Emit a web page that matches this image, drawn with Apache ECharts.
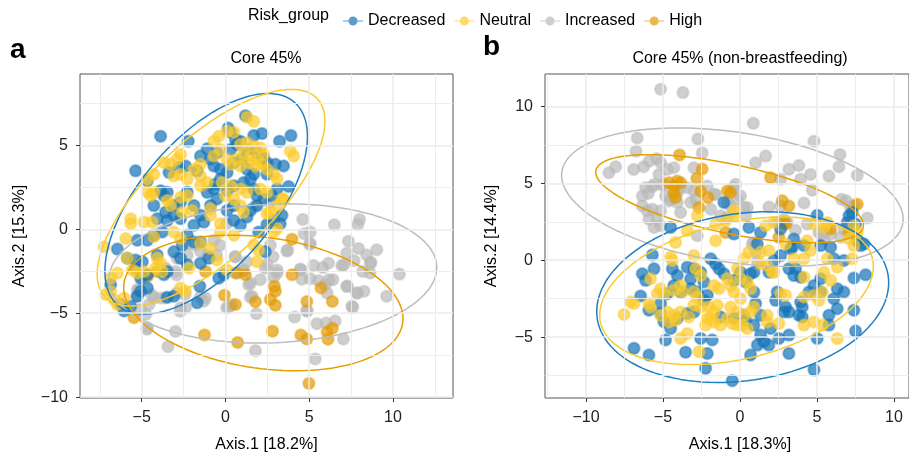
<!DOCTYPE html>
<html>
<head>
<meta charset="utf-8">
<script src="https://cdn.jsdelivr.net/npm/echarts@6/dist/echarts.min.js"></script>
<style>
  html, body { margin: 0; padding: 0; background: #fff; }
  #chart { width: 909px; height: 458px; }
</style>
</head>
<body>
<div id="chart"></div>
<script>
const groups = ['Decreased', 'Neutral', 'Increased', 'High'];
const groupColors = { Decreased: '#1474b8', Neutral: '#fcca2a', Increased: '#b9b9b9', High: '#e39a00' };
const lineColors = { Decreased: '#1f7fc3', Neutral: '#f9cb2c', Increased: '#bdbdbd', High: '#e69f00' };
// draw order, bottom to top
const drawOrder = ['Increased', 'High', 'Decreased', 'Neutral'];

// ---- panel a: Core 45% ----
const aDecreased = [[1.19,6.76],[-3.87,5.54],[-2.22,5.25],[0.16,6.03],[0.3,5.78],[0.6,5.34],[0.89,5.25],[1.69,5.58],[2.18,5.7],[3.23,5.25],[3.91,5.58],[-5.36,3.48],[-4.66,2.89],[-3.87,2.3],[-3.47,2.2],[-3.67,2.0],[-3.37,3.38],[-2.78,3.67],[-2.38,3.77],[-1.69,3.48],[-1.09,4.79],[-0.5,4.56],[-0.89,4.17],[-0.69,3.77],[-0.3,3.58],[0.1,3.38],[0.5,3.97],[0.99,4.17],[1.29,3.58],[1.69,3.28],[2.48,3.97],[2.98,3.87],[3.77,2.55],[3.08,2.4],[2.78,2.0],[2.28,1.81],[1.88,1.41],[1.49,1.12],[1.29,0.73],[0.5,1.41],[0.1,1.12],[-0.5,1.81],[-0.89,1.41],[-1.49,0.83],[-1.29,0.43],[-1.88,0.24],[-2.28,-0.35],[-1.88,-0.75],[-2.68,0.63],[-3.08,0.83],[-3.57,1.02],[-3.47,0.53],[-3.77,-0.16],[-4.27,-0.35],[-4.66,-0.65],[-5.26,-0.65],[-6.45,-1.18],[-5.85,-1.73],[-5.36,-1.83],[-4.96,-1.93],[-5.36,-2.32],[-5.06,-2.91],[-4.66,-2.71],[-3.67,-2.71],[-3.47,-2.51],[-2.68,-1.73],[-2.28,-2.12],[-1.49,-2.02],[-0.99,-1.73],[-0.4,-2.91],[-0.1,-2.71],[-1.53,-3.4],[-1.69,-4.38],[-3.08,-3.99],[-3.47,-4.05],[-4.66,-3.5],[-5.06,-3.69],[-5.26,-3.99],[-6.05,-4.87],[-5.65,-4.58],[-6.25,-4.48],[-6.85,-3.3],[2.48,0.28],[2.88,0.53],[3.37,0.83],[3.27,0.33],[2.38,-1.34],[1.98,-0.16],[0.89,0.24],[0.5,0.53],[1.88,2.0],[1.69,2.4],[0.5,2.59],[0.1,2.3],[-1.09,2.2],[-0.69,2.4],[-2.28,2.2],[-4.27,1.41],[-3.08,1.41],[-2.68,1.61],[-1.88,1.41],[-4.07,0.63],[-1.49,-0.75],[-2.58,-0.94],[-3.08,-1.34],[-4.07,-1.53],[0.3,4.75],[0.69,5.05],[1.29,4.75],[1.88,4.56],[2.28,4.26],[2.48,3.28],[3.47,3.77],[-1.49,4.36],[-0.3,2.99],[-0.6,2.69],[1.09,2.79],[1.49,2.99]];
const aNeutral = [[1.29,6.68],[1.69,6.42],[-0.4,5.54],[0.1,5.84],[0.5,5.78],[0.89,5.05],[1.29,5.15],[1.69,4.95],[2.08,4.85],[1.09,4.56],[1.49,4.36],[1.88,4.17],[2.28,4.46],[1.39,3.97],[1.79,3.77],[2.18,3.87],[2.48,3.58],[0.69,4.17],[0.89,3.77],[3.87,4.66],[4.07,4.36],[-0.3,4.75],[-0.69,4.36],[-2.68,4.46],[-2.88,4.17],[-3.67,3.97],[-3.27,3.87],[-4.27,3.28],[-4.66,2.99],[-4.66,2.24],[-4.27,2.2],[-4.46,2.0],[-3.08,3.18],[-2.68,3.28],[-2.28,2.99],[-1.49,3.18],[-1.09,2.79],[-1.49,2.59],[-0.2,2.79],[0.3,2.59],[0.89,2.4],[1.29,2.2],[2.08,2.4],[2.48,2.2],[3.08,2.99],[2.88,3.28],[3.47,1.81],[3.08,0.04],[2.48,0.92],[1.69,-0.94],[1.98,-1.24],[0.89,1.41],[1.09,1.02],[-0.3,0.33],[-0.3,-0.16],[-0.89,1.22],[-0.89,0.83],[-2.28,2.0],[-2.68,1.91],[-1.98,1.12],[-2.58,1.02],[-3.47,1.71],[-3.27,1.41],[-5.65,0.63],[-5.65,0.33],[-4.86,0.43],[-4.37,0.43],[-5.95,-0.55],[-4.27,-0.45],[-7.24,-1.04],[-6.45,-2.61],[-5.56,-2.42],[-5.26,-2.61],[-4.86,-2.51],[-5.85,-1.73],[-4.07,-1.73],[-3.87,-2.02],[-4.17,-2.32],[-3.77,-2.51],[-3.08,-0.16],[-2.68,-0.55],[-2.18,-2.32],[-1.49,-0.84],[-0.89,-1.14],[-0.5,-1.83],[0.1,-2.42],[-2.68,-3.5],[-2.38,-3.69],[-6.85,-3.69],[-7.14,-3.89],[-6.65,-4.18],[-6.45,-4.48],[-6.05,-4.09],[-6.85,-2.91],[1.88,-1.93],[3.08,1.41],[3.37,1.81],[2.68,1.02],[2.88,-0.16],[0.5,-0.35],[0.0,2.0],[0.5,1.81],[-1.88,3.58],[-1.49,3.87],[-0.69,5.25],[0.1,4.17],[0.3,3.87]];
const aIncreased = [[4.62,0.59],[6.5,0.27],[8.0,0.59],[7.9,0.29],[7.34,-0.71],[7.94,-1.14],[9.03,-1.22],[7.24,-1.43],[7.68,-1.87],[8.43,-1.53],[8.67,-1.96],[8.19,-2.51],[8.63,-2.61],[10.38,-2.67],[6.94,-2.16],[5.26,-2.16],[5.81,-2.28],[6.15,-2.02],[4.5,-2.42],[4.7,-0.26],[5.06,-0.16],[5.02,-0.9],[3.67,-1.3],[4.56,-2.97],[5.06,-2.95],[5.56,-3.06],[5.95,-3.3],[6.41,-3.0],[7.24,-3.4],[7.84,-3.79],[8.27,-3.69],[7.54,-4.58],[7.6,-4.65],[9.62,-3.99],[4.86,-4.83],[4.13,-5.23],[5.46,-5.62],[6.01,-5.58],[6.55,-5.46],[7.04,-6.54],[5.36,-7.72],[1.85,-5.03],[1.79,-7.23],[0.2,-4.64],[1.49,-4.05],[1.39,-3.3],[2.08,-3.0],[2.38,-2.32],[2.48,-2.08],[2.88,-2.87],[3.08,-2.61],[2.84,-1.63],[2.68,-0.94],[3.71,-1.24],[4.46,-2.36],[2.64,1.61],[1.69,1.32],[0.6,-1.63],[-0.69,-0.65],[-1.49,-1.3],[-1.09,-1.53],[-2.28,-1.53],[-2.88,-1.73],[-2.98,-2.51],[-3.57,-2.32],[-4.27,-4.09],[-3.87,-4.09],[-4.56,-4.48],[-4.76,-5.07],[-4.66,-5.85],[-2.98,-6.09],[-3.43,-6.99],[-3.57,-4.09],[-2.68,-4.68],[-2.38,-4.68],[-1.49,-4.03],[-1.19,-4.09],[-5.26,-3.6],[-5.06,-2.81],[0.6,-2.61],[1.09,-2.48],[0.07,0.34],[-2.2,-0.85],[-1.8,-0.95],[-0.33,-0.95],[-0.53,-1.54],[0.57,-1.63],[1.27,-1.93],[1.07,-2.42],[-2.91,-2.72],[-5.2,-3.6],[-5.3,-3.99],[-4.4,-3.9],[-2.91,-3.8],[-2.42,-3.9],[-5.07,-4.78],[0.07,-4.68],[0.37,-4.49],[-1.3,-4.29],[-4.68,-5.96],[-2.71,-4.88],[5.07,-0.85],[8.66,-2.03],[7.06,-2.13],[3.09,-2.42],[6.17,-3.01],[6.07,-3.8],[7.27,-3.4],[7.87,-3.8],[4.87,-4.88],[1.49,-3.2],[1.59,-3.99]];
const aHigh = [[3.97,-0.59],[3.97,-2.71],[2.92,-3.4],[2.98,-3.69],[2.68,-4.19],[2.98,-4.53],[1.79,-4.32],[1.19,-2.71],[0.69,-2.61],[0.6,-4.48],[-0.06,-3.93],[-1.19,-2.51],[-1.25,-6.29],[0.73,-6.74],[2.81,-6.07],[4.5,-6.3],[4.86,-6.54],[4.86,-4.3],[6.38,-4.3],[6.07,-6.12],[6.12,-6.55],[6.38,-5.9],[4.98,-9.18],[5.7,-3.5],[-5.46,-5.27],[-4.66,-2.81],[-4.07,-2.51]];

// ---- panel b: Core 45% (non-breastfeeding) ----
const bDecreased = [[-1.04,3.75],[-4.5,2.13],[-0.39,1.7],[0.58,2.13],[1.34,1.81],[5.02,2.93],[7.08,2.89],[7.29,3.1],[6.97,2.46],[7.51,2.35],[8.05,1.06],[5.24,0.95],[5.89,0.84],[4.16,0.95],[3.4,0.84],[6.1,0.09],[6.75,-0.02],[7.4,-1.16],[8.16,-0.95],[-5.69,0.34],[-5.58,-0.56],[-6.34,-0.88],[-6.13,-1.31],[-4.39,-0.56],[-4.07,-0.99],[-3.42,-0.45],[-3.2,-1.21],[-3.2,-1.85],[-1.9,0.09],[-1.58,-0.24],[-1.36,-0.56],[-1.04,-0.88],[-2.34,-1.42],[-2.77,-2.07],[-4.72,-2.18],[-5.15,-2.82],[-6.45,-2.33],[-5.91,-3.25],[-5.15,-3.47],[-4.94,-4.0],[-4.5,-4.44],[-4.07,-3.79],[-3.42,-3.47],[-2.99,-3.36],[-2.12,-2.28],[-2.34,-2.61],[-1.26,-3.69],[0.04,-0.78],[0.69,-0.88],[0.91,-0.78],[0.37,-1.42],[0.91,-2.07],[-0.39,-1.31],[1.88,-0.78],[2.21,-0.02],[2.64,0.3],[3.18,-0.56],[3.61,-0.56],[2.42,-2.07],[2.32,-2.61],[2.97,-3.04],[2.86,-3.36],[3.18,-3.36],[3.94,-2.72],[4.05,-3.04],[3.83,-3.58],[4.05,-3.69],[4.81,-1.64],[5.24,-1.21],[5.24,-2.07],[6.1,-2.5],[6.32,-3.15],[5.78,-3.58],[5.78,-4.22],[7.4,-3.25],[7.51,-4.61],[5.02,-5.09],[4.81,-7.13],[0.91,-4.22],[1.34,-4.87],[1.13,-5.52],[1.56,-5.3],[1.88,-5.52],[1.99,-4.44],[2.53,-5.09],[3.18,-4.87],[3.18,-6.06],[0.69,-6.16],[-0.5,-7.84],[-2.12,-6.06],[-2.23,-7.03],[-3.53,-5.99],[-5.91,-6.16],[-6.88,-5.73],[-4.83,-5.19],[-2.55,-5.09],[-1.8,-5.19],[0.22,-3.58],[0.37,-3.9],[-0.39,-3.79],[6.32,-1.85],[6.75,-2.07],[3.5,-0.99],[3.94,-1.1],[2.64,2.03],[1.13,1.06],[3.29,0.73],[3.5,1.38],[7.62,1.27],[7.84,0.95],[-2.99,-0.56],[-2.55,-0.78],[-4.29,-1.64],[-3.85,-2.07],[4.48,-2.07],[1.02,-2.82],[1.34,-3.58]];
const bNeutral = [[-2.77,2.89],[-1.58,2.35],[-0.93,2.56],[-3.42,1.92],[-4.18,1.16],[-1.58,1.27],[-0.39,3.21],[-0.39,2.89],[1.67,2.24],[2.21,2.46],[2.97,1.06],[4.37,1.27],[4.59,0.63],[4.81,2.35],[5.45,2.13],[5.67,2.46],[7.4,2.24],[7.62,1.81],[7.08,1.38],[7.4,0.95],[5.67,0.09],[6.32,-0.45],[5.45,-0.78],[5.89,-1.31],[7.29,0.09],[4.16,-1.1],[4.81,-2.28],[5.13,-2.61],[5.35,-2.07],[4.16,-2.39],[4.81,-4.01],[5.35,-4.22],[4.16,-4.22],[6.32,-5.09],[2.64,-2.18],[2.97,-2.28],[2.1,-0.78],[1.77,-0.34],[1.34,-0.24],[0.26,0.09],[0.58,0.52],[1.34,0.52],[1.88,0.63],[-0.17,-0.56],[0.04,-1.21],[0.48,-1.42],[0.69,-1.85],[-0.39,-2.07],[0.04,-2.5],[-0.61,-3.04],[-0.17,-3.36],[0.26,-3.58],[0.48,-4.44],[0.15,-4.22],[-0.82,-3.79],[-1.26,-4.22],[-1.69,-4.01],[-2.12,-3.79],[-2.23,-4.22],[-2.01,-3.04],[-2.55,-3.04],[-2.99,-2.93],[-2.99,-2.07],[-2.77,-2.39],[-2.55,-0.99],[-2.88,-0.56],[-2.99,0.3],[-3.85,-1.64],[-3.74,-2.07],[-4.29,-1.96],[-5.15,-1.85],[-4.94,-2.18],[-5.37,-2.18],[-5.8,-1.21],[-7.1,-2.72],[-6.88,-2.82],[-7.53,-3.53],[-5.91,-2.82],[-5.8,-3.04],[-5.15,-3.58],[-4.72,-3.36],[-4.29,-3.58],[-4.61,-4.01],[-4.18,-3.9],[-3.85,-3.36],[-3.31,-3.69],[-3.85,-5.09],[-3.42,-4.76],[-2.66,-5.95],[-4.5,0.19],[-4.39,-0.02],[-1.69,-1.64],[-1.36,-1.85],[-0.82,-1.21],[-0.61,-1.64],[0.91,-3.04],[0.69,-3.36],[1.77,-3.58],[1.77,-4.01],[2.53,-4.12],[3.5,0.09],[4.16,0.09],[2.21,-0.78],[-1.47,-2.93],[-1.69,-3.36],[-1.9,-3.79],[-0.5,-4.12],[-0.17,-4.22]];
const bIncreased = [[-5.15,11.12],[-3.7,10.9],[0.87,8.9],[-6.67,7.95],[-6.75,7.09],[-2.73,7.89],[-2.45,6.98],[-8.51,5.69],[-8.07,6.08],[-6.9,5.9],[-6.25,6.08],[-5.89,6.44],[-5.4,6.6],[-5.15,6.34],[-4.72,5.91],[-4.29,6.01],[-2.99,6.01],[-5.26,5.58],[-6.13,4.72],[-5.69,4.78],[-6.34,4.18],[-5.95,4.35],[-4.94,4.94],[-4.83,4.18],[-4.5,3.97],[-4.07,3.75],[-5.69,3.32],[-5.15,3.21],[-5.91,2.67],[-5.37,2.72],[-5.58,2.13],[-5.15,2.24],[-3.2,3.75],[-2.88,3.97],[-3.42,4.72],[-2.99,4.5],[-1.69,4.29],[-1.9,3.32],[-0.39,4.72],[-0.28,4.94],[-0.17,3.97],[-0.61,3.53],[0.48,3.43],[0.37,2.89],[-1.26,2.89],[-0.82,2.78],[-2.77,1.59],[0.91,1.16],[1.02,0.52],[1.13,-0.13],[1.02,6.34],[1.67,6.77],[2.64,5.26],[3.18,5.91],[3.83,6.16],[3.94,5.26],[4.59,5.58],[4.81,7.74],[4.7,4.55],[5.78,5.47],[6.43,6.08],[6.5,6.88],[7.62,5.52],[1.88,3.46],[2.64,3.53],[4.16,3.72],[6.6,3.97],[6.9,3.86],[8.27,2.75],[7.19,3.43],[7.4,3.58],[3.07,2.46],[3.61,1.95],[4.37,2.35],[5.13,1.81],[5.45,1.38],[5.89,1.7],[6.75,2.03],[6.54,1.49],[-0.82,3.75],[0.04,4.18],[-4.07,4.4],[-3.85,4.72],[-6.34,3.53],[-6.02,3.21],[-2.12,4.83],[-5.58,4.93],[-5.04,4.87],[-4.61,3.85],[-3.85,3.1],[-1.58,4.28],[0.26,3.43],[0.8,1.05],[2.43,2.46],[2.86,2.67],[5.31,1.7],[5.63,2.13]];
const bHigh = [[-3.92,6.85],[-2.45,5.93],[-2.8,5.32],[-4.07,5.15],[-4.29,4.83],[-4.61,5.04],[-4.29,4.4],[-4.18,4.07],[-2.55,4.5],[-2.07,4.07],[-0.82,4.5],[-0.61,4.4],[1.99,5.37],[2.75,3.86],[3.18,3.53],[2.86,2.46],[7.62,3.64],[2.53,1.49],[-0.93,1.81],[5.89,2.03],[7.08,1.81],[-2.66,3.43],[2.97,2.35],[-3.85,5.04]];

// 95% ellipses: [centre x, centre y, semi-major, semi-minor, tilt in degrees]
const aEllDecreased = [-1.15, 1.52, 8.02, 3.92, 48.9];
const aEllNeutral = [-0.86, 1.88, 8.66, 3.58, 42.9];
const aEllIncreased = [2.83, -2.63, 9.79, 4.13, 2.5];
const aEllHigh = [2.26, -4.39, 8.4, 3.9, -8.1];
const bEllDecreased = [0.18, -2.4, 9.55, 5.43, 8.4];
const bEllNeutral = [-0.22, -1.99, 9.07, 4.44, 13.3];
const bEllIncreased = [-0.49, 4.1, 11.2, 4.23, -8.55];
const bEllHigh = [-0.67, 4.0, 8.88, 2.24, -12.0];

// axes (panel b runs off the right edge of the picture)
const aXRange = [-8.68, 13.58];
const aYRange = [-10.05, 9.25];
const bXRange = [-12.66, 10.98];
const bYRange = [-8.96, 12.11];
const aXLabels = [-5, 0, 5, 10];
const aYLabels = [-10, -5, 0, 5];
const bXLabels = [-10, -5, 0, 5, 10];
const bYLabels = [-5, 0, 5, 10];
const aXGrid = [-7.5, -5, -2.5, 0, 2.5, 5, 7.5, 10, 12.5];
const aYGrid = [-10, -7.5, -5, -2.5, 0, 2.5, 5, 7.5];
const bXGrid = [-12.5, -10, -7.5, -5, -2.5, 0, 2.5, 5, 7.5, 10];
const bYGrid = [-7.5, -5, -2.5, 0, 2.5, 5, 7.5, 10];

const points = {
  a: { Decreased: aDecreased, Neutral: aNeutral, Increased: aIncreased, High: aHigh },
  b: { Decreased: bDecreased, Neutral: bNeutral, Increased: bIncreased, High: bHigh }
};
const ellipses = {
  a: { Decreased: aEllDecreased, Neutral: aEllNeutral, Increased: aEllIncreased, High: aEllHigh },
  b: { Decreased: bEllDecreased, Neutral: bEllNeutral, Increased: bEllIncreased, High: bEllHigh }
};

const FONT = 'Liberation Sans, Arial, Helvetica, sans-serif';

function rgba(hex, a) {
  const n = parseInt(hex.slice(1), 16);
  return 'rgba(' + (n >> 16) + ',' + ((n >> 8) & 255) + ',' + (n & 255) + ',' + a + ')';
}

// outline of an ellipse from its parameters
function ellipsePath(p) {
  const [cx, cy, ra, rb, deg] = p;
  const th = deg * Math.PI / 180;
  const out = [];
  for (let i = 0; i <= 120; i++) {
    const t = i / 120 * 2 * Math.PI;
    out.push([
      cx + ra * Math.cos(t) * Math.cos(th) - rb * Math.sin(t) * Math.sin(th),
      cy + ra * Math.cos(t) * Math.sin(th) + rb * Math.sin(t) * Math.cos(th)
    ]);
  }
  return out;
}

const minus = v => (v < 0 ? '\u2212' + Math.abs(v) : String(v));

function gridLine(v) {
  const major = v % 5 === 0;
  return { color: '#ebebeb', width: major ? 1.5 : 0.9, type: 'solid' };
}

function gridSeries(idx, xs, ys) {
  return {
    type: 'line', xAxisIndex: idx, yAxisIndex: idx, data: [], z: 1, silent: true,
    markLine: {
      silent: true, symbol: ['none', 'none'], label: { show: false }, animation: false,
      emphasis: { disabled: true },
      data: xs.map(v => ({ xAxis: v, lineStyle: gridLine(v) }))
        .concat(ys.map(v => ({ yAxis: v, lineStyle: gridLine(v) })))
    }
  };
}

function axisFor(idx, range, labels, name, gap, pad) {
  return {
    type: 'value', gridIndex: idx, min: range[0], max: range[1],
    axisLine: { show: false, onZero: false },
    splitLine: { show: false },
    axisTick: { show: true, length: 4, customValues: labels, lineStyle: { color: '#333', width: 1 } },
    axisLabel: { customValues: labels, formatter: minus, fontSize: 16, color: '#222', margin: 12, fontFamily: FONT },
    name: name, nameLocation: 'middle', nameGap: gap,
    nameTextStyle: { fontSize: 16, color: '#000', fontFamily: FONT, padding: pad || 0 }
  };
}

const series = [gridSeries(0, aXGrid, aYGrid), gridSeries(1, bXGrid, bYGrid)];
['a', 'b'].forEach((panel, idx) => {
  drawOrder.forEach(g => {
    series.push({
      name: g, type: 'scatter', xAxisIndex: idx, yAxisIndex: idx, z: 3,
      data: points[panel][g], symbolSize: 11.5,
      itemStyle: { color: rgba(groupColors[g], 0.88), borderColor: rgba(groupColors[g], 0.5), borderWidth: 2 },
      emphasis: { disabled: true }
    });
  });
  drawOrder.forEach(g => {
    series.push({
      name: g + ' ellipse', type: 'line', xAxisIndex: idx, yAxisIndex: idx, z: 4,
      data: ellipsePath(ellipses[panel][g]), showSymbol: false, symbol: 'none',
      lineStyle: { color: lineColors[g], width: 1.5 }, silent: true, clip: true
    });
  });
});

const chart = echarts.init(document.getElementById('chart'), null, { renderer: 'canvas' });
chart.setOption({
  animation: false,
  backgroundColor: '#fff',
  textStyle: { fontFamily: FONT },
  legend: {
    data: groups, left: 338, top: 8, itemWidth: 20, itemHeight: 9, itemGap: 9,
    icon: 'path://M0,4.4H20V5.6H0Z M10,0.5A4.5,4.5 0 1 1 9.99,0.5Z',
    itemStyle: { borderWidth: 0 },
    textStyle: { fontSize: 16, color: '#000', fontFamily: FONT }
  },
  grid: [
    { left: 80, top: 74, width: 373, height: 327, show: true, borderColor: '#555', borderWidth: 1, backgroundColor: '#fff' },
    { left: 545, top: 74, width: 364, height: 326, show: true, borderColor: '#555', borderWidth: 1, backgroundColor: '#fff' }
  ],
  xAxis: [
    axisFor(0, aXRange, aXLabels, 'Axis.1 [18.2%]', 39),
    axisFor(1, bXRange, bXLabels, 'Axis.1 [18.3%]', 39, [0, 0, 0, 26])
  ],
  yAxis: [
    axisFor(0, aYRange, aYLabels, 'Axis.2 [15.3%]', 52),
    axisFor(1, bYRange, bYLabels, 'Axis.2 [14.4%]', 45)
  ],
  graphic: [
    { type: 'text', left: 248, top: 8, style: { text: 'Risk_group', font: '16px ' + FONT, fill: '#000' } },
    { type: 'text', left: 10, top: 36, style: { text: 'a', font: 'bold 28px ' + FONT, fill: '#000' } },
    { type: 'text', left: 483, top: 33, style: { text: 'b', font: 'bold 28px ' + FONT, fill: '#000' } },
    { type: 'text', x: 266, y: 59, style: { text: 'Core 45%', font: '16px ' + FONT, fill: '#000', textAlign: 'center', textVerticalAlign: 'middle' } },
    { type: 'text', x: 740, y: 59, style: { text: 'Core 45% (non-breastfeeding)', font: '16px ' + FONT, fill: '#000', textAlign: 'center', textVerticalAlign: 'middle' } }
  ],
  series: series
});
</script>
</body>
</html>
